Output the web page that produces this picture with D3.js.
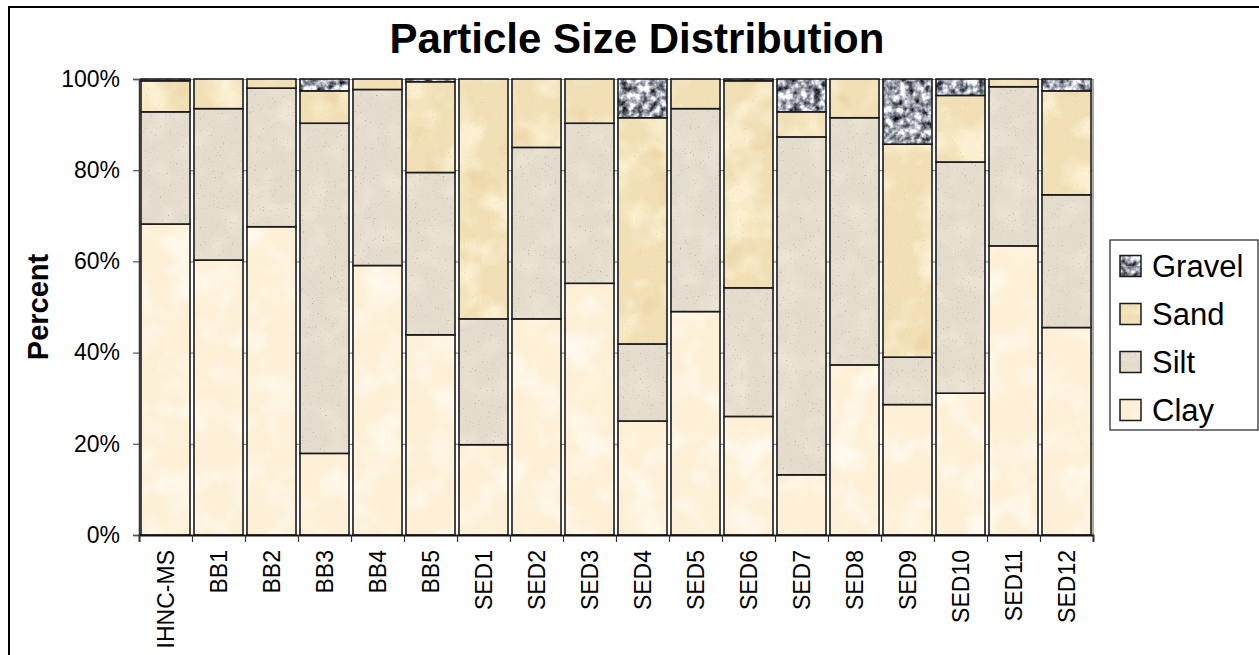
<!DOCTYPE html>
<html>
<head>
<meta charset="utf-8">
<script src="https://cdn.jsdelivr.net/npm/d3@7"></script>
<style>
  html, body { margin: 0; padding: 0; background: #fff; }
  svg { display: block; font-family: "Liberation Sans", Arial, sans-serif; }
</style>
</head>
<body>
<svg id="chart" width="1259" height="655"></svg>
<script>
// Sample names and grain-size fractions (percent of each sample)
const categories = ["IHNC-MS","BB1","BB2","BB3","BB4","BB5","SED1","SED2","SED3","SED4","SED5","SED6","SED7","SED8","SED9","SED10","SED11","SED12"];
const clay   = [68.2, 60.3, 67.6, 17.9, 59.1, 43.9, 19.8, 47.4, 55.2, 25.0, 49.0, 26.0, 13.2, 37.3, 28.6, 31.1, 63.4, 45.5];
const silt   = [24.6, 33.2, 30.4, 72.4, 38.6, 35.6, 27.6, 37.6, 35.1, 16.9, 44.5, 28.2, 74.1, 54.2, 10.4, 50.7, 34.9, 29.1];
const sand   = [ 6.8,  6.5,  2.0,  7.1,  2.3, 19.9, 52.6, 15.0,  9.7, 49.6,  6.5, 45.4,  5.5,  8.5, 46.7, 14.6,  1.7, 22.8];
const gravel = [ 0.4,  0.0,  0.0,  2.6,  0.0,  0.6,  0.0,  0.0,  0.0,  8.5,  0.0,  0.4,  7.2,  0.0, 14.3,  3.6,  0.0,  2.6];
const seriesNames = ["Clay", "Silt", "Sand", "Gravel"];
const yTicks = [0, 20, 40, 60, 80, 100];

const W = 1259, H = 655;
const plot = { left: 139, right: 1093, top: 79, bottom: 535 };

const svg = d3.select("#chart");
const defs = svg.append("defs");

// ---- textured fills (noise filters rendered into full-canvas patterns) ----
function textureFilter(id, build) {
  const f = defs.append("filter").attr("id", id)
    .attr("x", 0).attr("y", 0).attr("width", 1).attr("height", 1)
    .attr("color-interpolation-filters", "sRGB");
  build(f);
}
textureFilter("f-clay", f => {
  f.append("feFlood").attr("flood-color", "#fdf0d6").attr("result", "base");
  f.append("feTurbulence").attr("type", "fractalNoise").attr("baseFrequency", 0.03)
    .attr("numOctaves", 3).attr("seed", 7).attr("result", "n");
  f.append("feColorMatrix").attr("in", "n").attr("type", "matrix")
    .attr("values", "0 0 0 0 1  0 0 0 0 0.975  0 0 0 0 0.93  3 0 0 0 -1.35").attr("result", "hi");
  const m = f.append("feMerge");
  m.append("feMergeNode").attr("in", "base");
  m.append("feMergeNode").attr("in", "hi");
});
textureFilter("f-silt", f => {
  f.append("feFlood").attr("flood-color", "#e4dccd").attr("result", "base");
  f.append("feTurbulence").attr("type", "fractalNoise").attr("baseFrequency", 0.6)
    .attr("numOctaves", 2).attr("seed", 3).attr("result", "n");
  f.append("feColorMatrix").attr("in", "n").attr("type", "matrix")
    .attr("values", "0 0 0 0 0.74  0 0 0 0 0.7  0 0 0 0 0.64  -6 0 0 0 1.85").attr("result", "dots");
  f.append("feTurbulence").attr("type", "fractalNoise").attr("baseFrequency", 0.04)
    .attr("numOctaves", 2).attr("seed", 11).attr("result", "n2");
  f.append("feColorMatrix").attr("in", "n2").attr("type", "matrix")
    .attr("values", "0 0 0 0 0.93  0 0 0 0 0.9  0 0 0 0 0.84  2.5 0 0 0 -1.2").attr("result", "hi");
  const m = f.append("feMerge");
  m.append("feMergeNode").attr("in", "base");
  m.append("feMergeNode").attr("in", "hi");
  m.append("feMergeNode").attr("in", "dots");
});
textureFilter("f-sand", f => {
  f.append("feFlood").attr("flood-color", "#f1dfb5").attr("result", "base");
  f.append("feTurbulence").attr("type", "fractalNoise").attr("baseFrequency", 0.025)
    .attr("numOctaves", 3).attr("seed", 5).attr("result", "n");
  f.append("feColorMatrix").attr("in", "n").attr("type", "matrix")
    .attr("values", "0 0 0 0 0.985  0 0 0 0 0.94  0 0 0 0 0.82  3.5 0 0 0 -1.55").attr("result", "hi");
  f.append("feColorMatrix").attr("in", "n").attr("type", "matrix")
    .attr("values", "0 0 0 0 0.92  0 0 0 0 0.81  0 0 0 0 0.62  0 -3 0 0 1.1").attr("result", "lo");
  f.append("feTurbulence").attr("type", "fractalNoise").attr("baseFrequency", 0.5)
    .attr("numOctaves", 2).attr("seed", 9).attr("result", "n2");
  f.append("feColorMatrix").attr("in", "n2").attr("type", "matrix")
    .attr("values", "0 0 0 0 0.85  0 0 0 0 0.78  0 0 0 0 0.62  -4 0 0 0 1.3").attr("result", "dots");
  const m = f.append("feMerge");
  m.append("feMergeNode").attr("in", "base");
  m.append("feMergeNode").attr("in", "hi");
  m.append("feMergeNode").attr("in", "lo");
  m.append("feMergeNode").attr("in", "dots");
});
textureFilter("f-gravel", f => {
  f.append("feTurbulence").attr("type", "fractalNoise").attr("baseFrequency", 0.14)
    .attr("numOctaves", 3).attr("seed", 4).attr("result", "n");
  f.append("feColorMatrix").attr("in", "n").attr("type", "matrix")
    .attr("values", "1.9 0 0 0 -0.33  1.9 0 0 0 -0.31  1.9 0 0 0 -0.27  0 0 0 0 1");
});

const texIds = { Clay: "clay", Silt: "silt", Sand: "sand", Gravel: "gravel" };
Object.values(texIds).forEach(k => {
  const p = defs.append("pattern").attr("id", "p-" + k)
    .attr("patternUnits", "userSpaceOnUse").attr("width", W).attr("height", H);
  p.append("rect").attr("width", W).attr("height", H).attr("fill", "#fff")
    .attr("filter", `url(#f-${k})`);
});

// ---- outer chart frame ----
svg.append("rect").attr("x", 9).attr("y", 7).attr("width", W + 20).attr("height", H + 20)
  .attr("fill", "#fff").attr("stroke", "#000").attr("stroke-width", 2);

// ---- scales ----
const x = d3.scaleBand().domain(categories).range([plot.left, plot.right])
  .paddingInner(0.075).paddingOuter(0.0375);
const y = d3.scaleLinear().domain([0, 100]).range([plot.bottom, plot.top]);
const xEdges = d3.scaleLinear().domain([0, categories.length]).range([plot.left, plot.right]);

// ---- gridlines and plot-area border ----
svg.append("g").attr("transform", `translate(${plot.left},0)`)
  .call(d3.axisLeft(y).tickValues(yTicks.slice(1)).tickSize(-(plot.right - plot.left)).tickFormat(""))
  .call(g => g.select(".domain").remove())
  .call(g => g.selectAll("line").attr("stroke", "#8c8c8c").attr("stroke-width", 1.2));
svg.append("line").attr("x1", plot.right).attr("x2", plot.right)
  .attr("y1", plot.top).attr("y2", plot.bottom).attr("stroke", "#8c8c8c").attr("stroke-width", 1.5);

// ---- stacked bars ----
const rows = categories.map((c, i) => ({ cat: c, Clay: clay[i], Silt: silt[i], Sand: sand[i], Gravel: gravel[i] }));
const stacked = d3.stack().keys(seriesNames)(rows);

svg.append("g").selectAll("g").data(stacked).join("g")
  .attr("fill", s => `url(#p-${texIds[s.key]})`)
  .selectAll("rect").data(s => s.filter(d => d[1] - d[0] > 0)).join("rect")
  .attr("x", d => x(d.data.cat))
  .attr("width", x.bandwidth())
  .attr("y", d => y(d[1]))
  .attr("height", d => y(d[0]) - y(d[1]))
  .attr("stroke", "#1a1a1a").attr("stroke-width", 1.6);

// ---- y axis ----
svg.append("g").attr("transform", `translate(${plot.left},0)`)
  .call(d3.axisLeft(y).tickValues(yTicks).tickFormat(d => d + "%").tickSize(6).tickPadding(13))
  .call(g => g.select(".domain").attr("stroke", "#333").attr("stroke-width", 1.5))
  .call(g => g.selectAll("line").attr("stroke", "#555").attr("stroke-width", 1.2))
  .call(g => g.selectAll("text").attr("font-size", 23).attr("fill", "#000")
    .attr("font-family", "'Liberation Sans', Arial, sans-serif"));

// ---- x axis: boundary ticks and rotated sample names ----
svg.append("g").attr("transform", `translate(0,${plot.bottom})`)
  .call(d3.axisBottom(xEdges).ticks(categories.length).tickSize(7).tickFormat(""))
  .call(g => g.select(".domain").attr("stroke", "#111").attr("stroke-width", 1.8))
  .call(g => g.selectAll("line").attr("stroke", "#333").attr("stroke-width", 1.2));

svg.append("g").attr("transform", `translate(0,${plot.bottom})`)
  .call(d3.axisBottom(x).tickSize(0).tickPadding(0))
  .call(g => g.select(".domain").remove())
  .call(g => g.selectAll("text")
    .attr("font-size", 23).attr("fill", "#000")
    .attr("font-family", "'Liberation Sans', Arial, sans-serif")
    .attr("text-anchor", "end")
    .attr("transform", "translate(0,15) rotate(-90)")
    .attr("x", 0).attr("y", 0).attr("dy", "0.36em"));

// ---- titles ----
svg.append("text").attr("x", 637).attr("y", 53)
  .attr("text-anchor", "middle").attr("font-size", 42).attr("font-weight", "bold")
  .text("Particle Size Distribution");
svg.append("text").attr("transform", `translate(48,${(plot.top + plot.bottom) / 2}) rotate(-90)`)
  .attr("text-anchor", "middle").attr("font-size", 29).attr("font-weight", "bold")
  .text("Percent");

// ---- legend ----
const legend = svg.append("g");
legend.append("rect").attr("x", 1110).attr("y", 240).attr("width", 148).attr("height", 190)
  .attr("fill", "#fff").attr("stroke", "#222").attr("stroke-width", 1.2);
const legendOrder = seriesNames.slice().reverse();
const ly = d3.scalePoint().domain(legendOrder).range([266, 410]);
const items = legend.selectAll("g.item").data(legendOrder).join("g").attr("class", "item")
  .attr("transform", d => `translate(0,${ly(d)})`);
items.append("rect").attr("x", 1120).attr("y", -10.5).attr("width", 21).attr("height", 21)
  .attr("fill", d => `url(#p-${texIds[d]})`).attr("stroke", "#1a1a1a").attr("stroke-width", 1.5);
items.append("text").attr("x", 1152).attr("y", 11).attr("font-size", 31).text(d => d);
</script>
</body>
</html>
